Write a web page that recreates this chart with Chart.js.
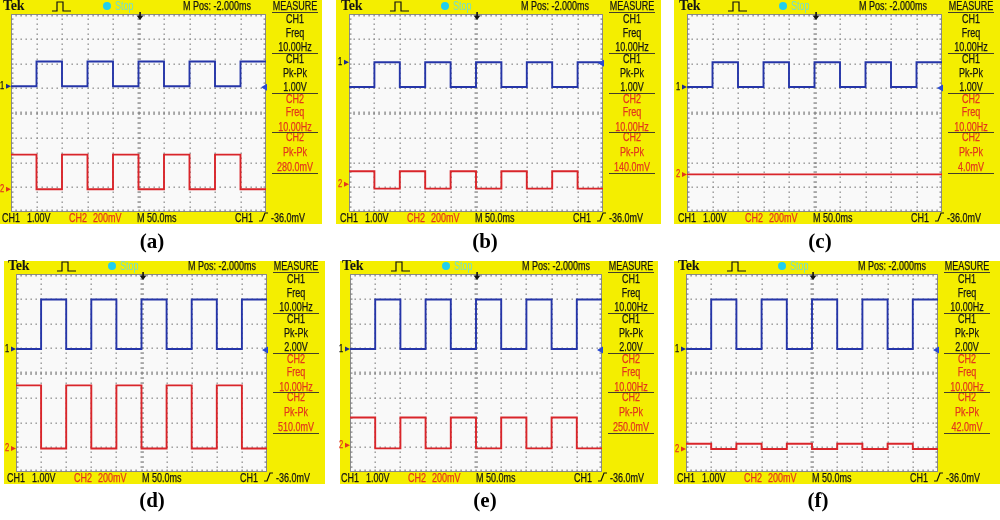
<!DOCTYPE html>
<html><head><meta charset="utf-8">
<script src="https://cdn.jsdelivr.net/npm/chart.js@4.4.1/dist/chart.umd.min.js"></script>
<style>
html,body{margin:0;padding:0;background:#fff;width:1000px;height:520px;overflow:hidden}
#stage{position:relative;width:1000px;height:520px;overflow:hidden;background:#fff}
canvas.scope{position:absolute;background:#f4ee00}
.t{position:absolute;font-family:"Liberation Sans",Arial,sans-serif;font-size:12px;line-height:14px;height:14px;white-space:nowrap;color:#141414;transform-origin:0 50%;transform:scaleX(0.75);-webkit-text-stroke:0.25px currentColor}
.c{transform-origin:50% 50%;transform:translateX(-50%) scaleX(0.75)}
.red{color:#e2371c}
.stop{color:#72dccf;-webkit-text-stroke:0}
.tek{font-family:"Liberation Serif","DejaVu Serif",serif;font-weight:bold;font-size:14px;letter-spacing:-0.3px;transform:none;-webkit-text-stroke:0}
.mk{font-size:10px}
.lab{position:absolute;font-family:"Liberation Serif","DejaVu Serif",serif;font-weight:bold;font-size:21px;line-height:24px;transform:translateX(-50%);color:#000;white-space:nowrap}
.rule{position:absolute;height:1px;background:#44402a}
svg.ic{position:absolute;overflow:visible}
.dot{position:absolute;width:8px;height:8px;border-radius:50%;background:#22cfee}
</style></head><body><div id="stage"></div>
<script>
// ---------------- data ----------------
// time axis: 10 divisions x 50 ms/div, edges of the 10 Hz square waves
const timeMs = [0, 50, 100, 150, 200, 250, 300, 350, 400, 450, 500];
// CH1 (V), CH2 (mV) values holding from each edge to the next one
const ch1A = [0, 1.00, 0, 1.00, 0, 1.00, 0, 1.00, 0, 1.00, 1.00];
const ch2A = [280, 0, 280, 0, 280, 0, 280, 0, 280, 0, 0];
const ch1B = [-1.00, 0, -1.00, 0, -1.00, 0, -1.00, 0, -1.00, 0, 0];
const ch2B = [105, -35, 105, -35, 105, -35, 105, -35, 105, -35, -35];
const ch1C = [0, 1.00, 0, 1.00, 0, 1.00, 0, 1.00, 0, 1.00, 1.00];
const ch2C = [0, 0, 0, 0, 0, 0, 0, 0, 0, 0, 0];
const ch1D = [0, 2.00, 0, 2.00, 0, 2.00, 0, 2.00, 0, 2.00, 2.00];
const ch2D = [510, 0, 510, 0, 510, 0, 510, 0, 510, 0, 0];
const ch1E = [0, 2.00, 0, 2.00, 0, 2.00, 0, 2.00, 0, 2.00, 2.00];
const ch2E = [225, -25, 225, -25, 225, -25, 225, -25, 225, -25, -25];
const ch1F = [0, 2.00, 0, 2.00, 0, 2.00, 0, 2.00, 0, 2.00, 2.00];
const ch2F = [42, 0, 42, 0, 42, 0, 42, 0, 42, 0, 0];
// channel ground positions (divisions from screen centre)
const ch1Pos = [1.08, 2.05, 1.05, 0.97, 0.97, 0.97];
const ch2Pos = [-3.08, -2.88, -2.48, -3.05, -2.92, -3.07];
// scale settings
const ch1VoltsPerDiv = 1.0;
const ch2mVPerDiv = 200;
const triggerLevelV = -0.036;
// measurement read-outs
const ch1Freq = ['10.00Hz', '10.00Hz', '10.00Hz', '10.00Hz', '10.00Hz', '10.00Hz'];
const ch1PkPk = ['1.00V', '1.00V', '1.00V', '2.00V', '2.00V', '2.00V'];
const ch2Freq = ['10.00Hz', '10.00Hz', '10.00Hz', '10.00Hz', '10.00Hz', '10.00Hz'];
const ch2PkPk = ['280.0mV', '140.0mV', '4.0mV', '510.0mV', '250.0mV', '42.0mV'];
const panelLabels = ['(a)', '(b)', '(c)', '(d)', '(e)', '(f)'];
const ch1Series = [ch1A, ch1B, ch1C, ch1D, ch1E, ch1F];
const ch2Series = [ch2A, ch2B, ch2C, ch2D, ch2E, ch2F];

// ---------------- layout ----------------
const boxes = [
  {yl: 0,   pl: 11,  pr: 266, yr: 322,  row: 0, lx: 152},
  {yl: 336, pl: 349, pr: 603, yr: 661,  row: 0, lx: 485},
  {yl: 674, pl: 687, pr: 942, yr: 1000, row: 0, lx: 820},
  {yl: 4,   pl: 16,  pr: 267, yr: 325,  row: 1, lx: 152},
  {yl: 340, pl: 350, pr: 602, yr: 658,  row: 1, lx: 485},
  {yl: 674, pl: 686, pr: 938, yr: 1000, row: 1, lx: 818}
];
const rows = [
  {B: 0,   yTop: 0,   yBot: 224, labY: 241},
  {B: 260, yTop: 261, yBot: 484, labY: 500}
];
const BLUE = '#2535a8', RED = '#d9252a', GRID = '#8e8e8e';

const stage = document.getElementById('stage');
function el(tag, cls, css, text) {
  const d = document.createElement(tag);
  if (cls) d.className = cls;
  Object.assign(d.style, css);
  if (text !== undefined) d.textContent = text;
  stage.appendChild(d);
  return d;
}
function txt(s, x, cy, cls) {
  return el('div', 't ' + (cls || ''), {left: x + 'px', top: (cy - 7) + 'px'}, s);
}
function svgIcon(x, y, w, h, pts) {
  const ns = 'http://www.w3.org/2000/svg';
  const s = document.createElementNS(ns, 'svg');
  s.setAttribute('class', 'ic');
  s.setAttribute('width', w); s.setAttribute('height', h);
  s.style.left = x + 'px'; s.style.top = y + 'px';
  const p = document.createElementNS(ns, 'polyline');
  p.setAttribute('points', pts);
  p.setAttribute('fill', 'none'); p.setAttribute('stroke', '#111'); p.setAttribute('stroke-width', '1.2');
  s.appendChild(p);
  stage.appendChild(s);
}

const scopeGrid = {
  id: 'scopeGrid',
  beforeDatasetsDraw(chart) {
    const ctx = chart.ctx, a = chart.chartArea;
    const w = a.right - a.left, h = a.bottom - a.top;
    const dx = w / 10, dy = h / 8;
    ctx.save();
    ctx.fillStyle = '#f9f9f9';
    ctx.fillRect(a.left, a.top, w, h);
    ctx.fillStyle = GRID;
    for (let i = 1; i < 10; i++) {
      if (i === 5) continue;
      const x = Math.round(a.left + i * dx);
      for (let k = 1; k < 40; k++) ctx.fillRect(x - 0.5, Math.round(a.top + k * dy / 5) - 0.5, 1.4, 1.4);
    }
    for (let j = 1; j < 8; j++) {
      if (j === 4) continue;
      const y = Math.round(a.top + j * dy);
      for (let k = 1; k < 50; k++) ctx.fillRect(Math.round(a.left + k * dx / 5) - 0.5, y - 0.5, 1.4, 1.4);
    }
    const cx = Math.round(a.left + 5 * dx), cy = Math.round(a.top + 4 * dy);
    ctx.fillStyle = '#808080';
    for (let k = 1; k < 40; k++) ctx.fillRect(cx - 1.5, Math.round(a.top + k * dy / 5) - 0.6, 3.4, 1.3);
    for (let k = 1; k < 50; k++) ctx.fillRect(Math.round(a.left + k * dx / 5) - 0.6, cy - 1.5, 1.3, 3.4);
    // border with inward ticks
    ctx.strokeStyle = '#8a8a8a'; ctx.lineWidth = 1;
    ctx.strokeRect(a.left + 0.5, a.top + 0.5, w - 1, h - 1);
    for (let k = 1; k < 50; k++) {
      const x = Math.round(a.left + k * dx / 5) - 0.5;
      ctx.fillRect(x, a.top, 1.2, 2.5);
      ctx.fillRect(x, a.bottom - 2.5, 1.2, 2.5);
    }
    for (let k = 1; k < 40; k++) {
      const y = Math.round(a.top + k * dy / 5) - 0.5;
      ctx.fillRect(a.left, y, 2.5, 1.2);
      ctx.fillRect(a.right - 2.5, y, 2.5, 1.2);
    }
    ctx.restore();
  },
  afterDatasetsDraw(chart) {
    const ctx = chart.ctx, a = chart.chartArea;
    const y1 = chart.scales.y1, y2 = chart.scales.y2, xs = chart.scales.x;
    ctx.save();
    // ground markers
    const g1 = y1.getPixelForValue(0), g2 = y2.getPixelForValue(0);
    ctx.fillStyle = '#1c2a8a';
    ctx.beginPath(); ctx.moveTo(a.left - 5, g1 - 2.5); ctx.lineTo(a.left, g1); ctx.lineTo(a.left - 5, g1 + 2.5); ctx.fill();
    ctx.fillStyle = '#e2371c';
    ctx.beginPath(); ctx.moveTo(a.left - 5, g2 - 2.5); ctx.lineTo(a.left, g2); ctx.lineTo(a.left - 5, g2 + 2.5); ctx.fill();
    // trigger level arrow (right)
    const tl = y1.getPixelForValue(triggerLevelV);
    ctx.fillStyle = '#2a4ad0';
    ctx.beginPath(); ctx.moveTo(a.right - 5, tl); ctx.lineTo(a.right + 1, tl - 3.5); ctx.lineTo(a.right + 1, tl + 3.5); ctx.fill();
    // trigger position marker (top)
    const tx = Math.round(xs.getPixelForValue(252));
    ctx.fillStyle = '#111';
    ctx.fillRect(tx - 0.7, a.top - 2, 1.6, 4);
    ctx.beginPath(); ctx.moveTo(tx - 3.5, a.top + 1.5); ctx.lineTo(tx + 3.5, a.top + 1.5); ctx.lineTo(tx, a.top + 6); ctx.fill();
    ctx.restore();
  }
};

boxes.forEach((b, i) => {
  const r = rows[b.row];
  const plotTop = r.B + 14, plotBot = r.B + 212;
  const W = b.yr - b.yl, H = r.yBot - r.yTop;
  const cv = el('canvas', 'scope', {left: b.yl + 'px', top: r.yTop + 'px', width: W + 'px', height: H + 'px'});
  cv.width = W; cv.height = H;
  const p1 = ch1Pos[i], p2 = ch2Pos[i];
  const chart = new Chart(cv, {
    type: 'line',
    data: {
      datasets: [
        {label: 'CH1', yAxisID: 'y1', data: timeMs.map((t, k) => ({x: t, y: ch1Series[i][k]})),
         borderColor: BLUE, borderWidth: 1.9, stepped: 'before', pointRadius: 0, fill: false},
        {label: 'CH2', yAxisID: 'y2', data: timeMs.map((t, k) => ({x: t, y: ch2Series[i][k]})),
         borderColor: RED, borderWidth: 1.9, stepped: 'before', pointRadius: 0, fill: false}
      ]
    },
    options: {
      responsive: false, animation: false, events: [], devicePixelRatio: 1,
      layout: {padding: {left: b.pl - b.yl, right: b.yr - b.pr, top: plotTop - r.yTop, bottom: r.yBot - plotBot}},
      plugins: {legend: {display: false}, tooltip: {enabled: false}, title: {display: false}},
      scales: {
        x: {type: 'linear', min: 0, max: 500, display: false},
        y1: {type: 'linear', min: (-4 - p1) * ch1VoltsPerDiv, max: (4 - p1) * ch1VoltsPerDiv, display: false},
        y2: {type: 'linear', min: (-4 - p2) * ch2mVPerDiv, max: (4 - p2) * ch2mVPerDiv, display: false}
      }
    },
    plugins: [scopeGrid]
  });

  const PL = b.pl, PR = b.pr, B = r.B;
  // header
  txt('Tek', PL - 8, B + 6, 'tek');
  svgIcon(PL + 41, B + 1, 19, 11, '0,10 5,10 5,1 11,1 11,10 19,10');
  el('div', 'dot', {left: (PL + 92) + 'px', top: (B + 2) + 'px'});
  txt('Stop', PL + 104, B + 6, 'stop');
  txt('M Pos: -2.000ms', PL + 172, B + 6);
  // measure column
  const cx = PR + 29;
  const col = [
    ['MEASURE', 6, ''], ['CH1', 19, ''], ['Freq', 33, ''], [ch1Freq[i], 47, ''],
    ['CH1', 59, ''], ['Pk-Pk', 73, ''], [ch1PkPk[i], 87, ''],
    ['CH2', 99, 'red'], ['Freq', 112, 'red'], [ch2Freq[i], 127, 'red'],
    ['CH2', 137, 'red'], ['Pk-Pk', 152, 'red'], [ch2PkPk[i], 167, 'red']
  ];
  col.forEach(c => txt(c[0], cx, B + c[1], 'c ' + c[2]));
  [12, 53, 93, 132, 173].forEach(y => el('div', 'rule', {left: (PR + 6) + 'px', top: (B + y) + 'px', width: '46px'}));
  // footer
  txt('CH1', PL - 9, B + 218);
  txt('1.00V', PL + 16, B + 218);
  txt('CH2', PL + 58, B + 218, 'red');
  txt('200mV', PL + 82, B + 218, 'red');
  txt('M 50.0ms', PL + 126, B + 218);
  txt('CH1', PL + 224, B + 218);
  svgIcon(PL + 248, B + 213, 9, 9, '0,8 3,8 6,0 9,0');
  txt('-36.0mV', PL + 260, B + 218);
  // ground marker digits
  const g1 = r.yTop + chart.scales.y1.getPixelForValue(0);
  const g2 = r.yTop + chart.scales.y2.getPixelForValue(0);
  txt('1', PL - 11, g1, 'mk');
  txt('2', PL - 11, g2, 'mk red');
  // caption
  el('div', 'lab', {left: b.lx + 'px', top: (r.labY - 12) + 'px'}, panelLabels[i]);
});
</script>
</body></html>
